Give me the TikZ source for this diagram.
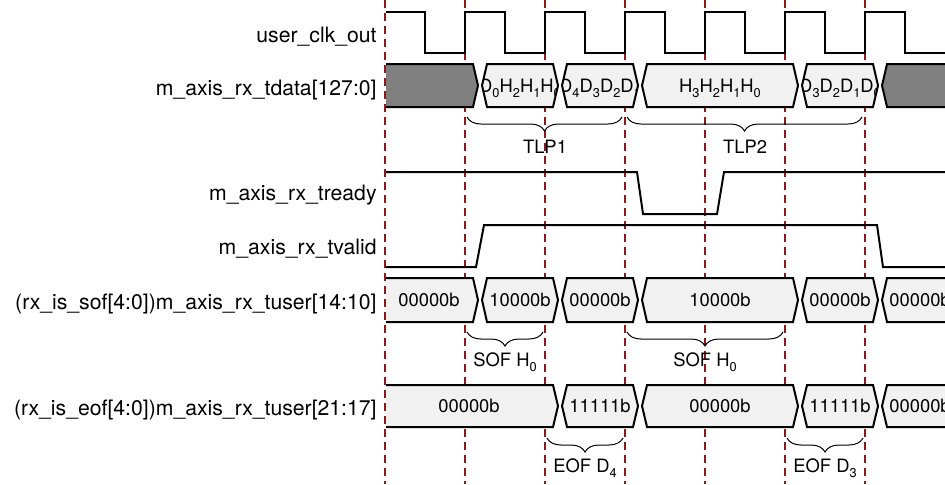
\documentclass[tikz,border=0pt]{standalone}
\usepackage{fontspec}
\setmainfont{TeX Gyre Heros}
\usetikzlibrary{decorations.pathreplacing}

\definecolor{cyclered}{RGB}{140,25,25}
\definecolor{busdark}{RGB}{128,128,128}
\definecolor{buslight}{RGB}{241,241,241}

\tikzset{
  cycleline/.style={draw=cyclered, line width=0.6pt, dash pattern=on 4pt off 2.5pt},
  sig/.style={line width=1pt},
  bus/.style={line width=1pt, draw=black},
  signame/.style={anchor=base east, inner sep=0pt, font=\fontsize{10.6}{12}\selectfont},
  bustxt/.style={anchor=base, inner sep=0pt, font=\fontsize{9.2}{10}\selectfont},
  brc/.style={decorate, decoration={brace, amplitude=7pt, mirror}, line width=0.5pt},
  brclbl/.style={anchor=base, inner sep=0pt, font=\fontsize{9.2}{10}\selectfont}
}

% dropped subscript
\newcommand{\sbs}[1]{\raisebox{-0.3em}{\fontsize{6.4}{7}\selectfont #1}}

% bus segment: top, bottom, x from, x to, fill, text, name
\newcommand{\busseg}[7]{%
  \filldraw[bus, fill=#5] (#3,{(#1+#2)/2}) -- (#3+5,#1) -- (#4-5,#1) -- (#4,{(#1+#2)/2}) -- (#4-5,#2) -- (#3+5,#2) -- cycle;
  \begin{scope}
    \clip (#3,{(#1+#2)/2}) -- (#3+5,#1) -- (#4-5,#1) -- (#4,{(#1+#2)/2}) -- (#4-5,#2) -- (#3+5,#2) -- cycle;
    \node[bustxt] (#7) at ({(#3+#4)/2},{(#1+#2)/2+6.5}) {#6};
  \end{scope}}

\begin{document}
\begin{tikzpicture}[x=0.5pt, y=-0.5pt]
  \useasboundingbox (0,0) rectangle (945,484);

  % clock cycle markers
  \foreach \k in {0,...,6}
    \draw[cycleline] (385+80*\k,0) -- (385+80*\k,484);

  % signal names
  \node[signame] (clk)    at (377,42)  {user\_clk\_out};
  \node[signame] (tdata)  at (377,95)  {m\_axis\_rx\_tdata[127:0]};
  \node[signame] (tready) at (377,200) {m\_axis\_rx\_tready};
  \node[signame] (tvalid) at (377,254) {m\_axis\_rx\_tvalid};
  \node[signame] (sof)    at (377,309) {(rx\_is\_sof[4:0])m\_axis\_rx\_tuser[14:10]};
  \node[signame] (eof)    at (377,415) {(rx\_is\_eof[4:0])m\_axis\_rx\_tuser[21:17]};

  \begin{scope}
    \clip (386,-10) rectangle (1000,500);

    % clock
    \draw[sig] (380,12) -- (425,12)
      \foreach \k in {0,...,5} { -- ++(0,41) -- ++(40,0) -- ++(0,-41) -- ++(40,0) }
      -- ++(0,41) -- (1000,53);

    % tdata
    \foreach \xa/\xb/\fc/\txt [count=\i] in {
        380/478/busdark/{},
        482/558/buslight/{D\sbs{0}H\sbs{2}H\sbs{1}H\sbs{0}},
        562/638/buslight/{D\sbs{4}D\sbs{3}D\sbs{2}D\sbs{1}},
        642/798/buslight/{H\sbs{3}H\sbs{2}H\sbs{1}H\sbs{0}},
        802/878/buslight/{D\sbs{3}D\sbs{2}D\sbs{1}D\sbs{0}},
        882/1000/busdark/{}}
      \busseg{64}{107}{\xa}{\xb}{\fc}{\txt}{td\i};

    % tready and tvalid
    \draw[sig] (380,172) -- (637,172) -- (643,214) -- (717,214) -- (724,172) -- (1000,172);
    \draw[sig] (380,267) -- (476,267) -- (484,225) -- (877,225) -- (883,267) -- (1000,267);

    % tuser sof
    \foreach \xa/\xb/\txt [count=\i] in {
        380/478/00000b, 482/558/10000b, 562/638/00000b,
        642/798/10000b, 802/878/00000b, 882/958/00000b}
      \busseg{278}{322}{\xa}{\xb}{buslight}{\txt}{sf\i};

    % tuser eof
    \foreach \xa/\xb/\txt [count=\i] in {
        380/558/00000b, 562/638/11111b, 642/798/00000b,
        802/878/11111b, 882/958/00000b}
      \busseg{385}{427}{\xa}{\xb}{buslight}{\txt}{ef\i};
  \end{scope}

  % packet braces
  \draw[brc] (467,117) -- (622,117);
  \draw[brc] (627,117) -- (862,117);
  \node[brclbl] (tlp1) at (545,153) {TLP1};
  \node[brclbl] (tlp2) at (745,153) {TLP2};

  \draw[brc] (467,332) -- (543,332);
  \draw[brc] (627,332) -- (783,332);
  \node[brclbl] (sofa) at (505,366) {SOF H\sbs{0}};
  \node[brclbl] (sofb) at (705,366) {SOF H\sbs{0}};

  \draw[brc] (547,438) -- (623,438);
  \draw[brc] (787,438) -- (863,438);
  \node[brclbl] (eofa) at (585,472) {EOF D\sbs{4}};
  \node[brclbl] (eofb) at (825,472) {EOF D\sbs{3}};
\end{tikzpicture}
\end{document}
